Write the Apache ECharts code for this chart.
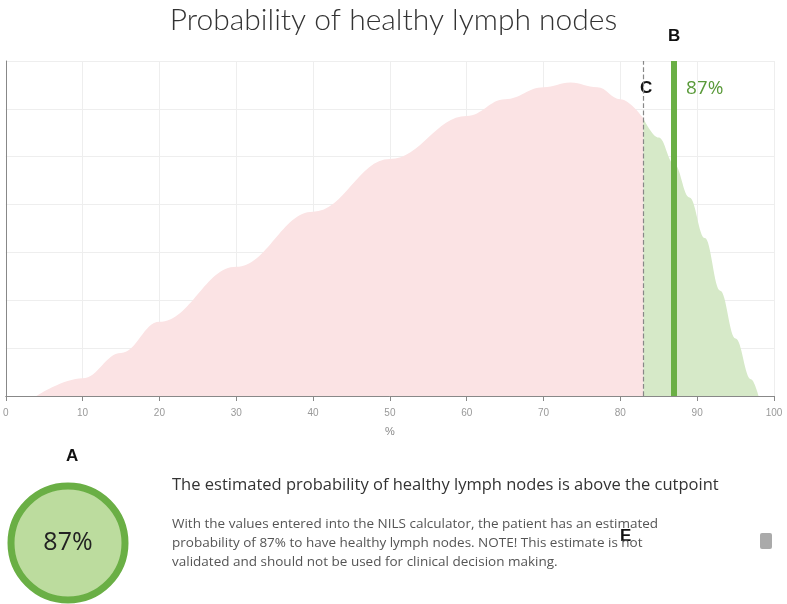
<!DOCTYPE html>
<html><head><meta charset="utf-8">
<script src="https://cdn.jsdelivr.net/npm/echarts@6/dist/echarts.min.js"></script>
<style>html,body{margin:0;padding:0;background:#fff}#chart{width:787px;height:604px}</style>
</head><body><div id="chart"></div>
<script>
// density curve, split at the cutpoint
var xTicks = [0, 10, 20, 30, 40, 50, 60, 70, 80, 90, 100];
var belowX = [4, 10, 15, 20, 30, 40, 50, 60, 65, 70, 73.5, 77, 80, 83];
var belowY = [0, 0.37, 0.9, 1.55, 2.7, 3.85, 4.95, 5.85, 6.2, 6.45, 6.55, 6.45, 6.2, 5.8];
var aboveX = [83, 85, 87, 89, 91, 93, 95, 97, 98];
var aboveY = [5.8, 5.4, 4.85, 4.15, 3.3, 2.2, 1.2, 0.35, 0];
var cutpoint = 83;
var estimate = 87;

function pairs(xs, ys) {
    var out = [];
    for (var i = 0; i < xs.length; i++) out.push([xs[i], ys[i]]);
    return out;
}

var chart = echarts.init(document.getElementById('chart'));
var font = '"Open Sans", Lato, sans-serif';

chart.setOption({
    animation: false,
    title: {
        text: 'Probability of healthy lymph nodes',
        left: 'center', top: 0,
        textStyle: { fontFamily: 'Lato', fontSize: 30, fontWeight: 300, color: '#333' }
    },
    grid: { left: 4, right: 13, top: 61, bottom: 208 },
    xAxis: {
        type: 'value', min: 0, max: 100, interval: 10,
        name: '%', nameLocation: 'middle', nameGap: 30,
        nameTextStyle: { color: '#888', fontSize: 11 },
        axisLine: { lineStyle: { color: '#888' } },
        axisTick: { show: true, lineStyle: { color: '#888' } },
        axisLabel: { color: '#999', fontSize: 10, margin: 12 },
        splitLine: { lineStyle: { color: '#eee' } }
    },
    yAxis: {
        type: 'value', min: 0, max: 7, interval: 1,
        axisLine: { show: true, lineStyle: { color: '#888' } },
        axisLabel: { show: false },
        axisTick: { show: false },
        splitLine: { lineStyle: { color: '#eee' } }
    },
    series: [
        {
            type: 'line', smooth: 0.4, smoothMonotone: 'x', symbol: 'none',
            data: pairs(belowX, belowY),
            lineStyle: { width: 0 },
            areaStyle: { color: '#fbe3e4', opacity: 1 }
        },
        {
            type: 'line', smooth: 0.4, smoothMonotone: 'x', symbol: 'none',
            data: pairs(aboveX, aboveY),
            lineStyle: { width: 0 },
            areaStyle: { color: '#d6e9c8', opacity: 1 },
            markLine: {
                symbol: 'none', silent: true,
                label: { show: false },
                data: [
                    { xAxis: cutpoint, lineStyle: { type: 'dashed', color: '#888', width: 1.2 } },
                    { xAxis: estimate, lineStyle: { type: 'solid', color: '#6aaf45', width: 6 } }
                ]
            }
        }
    ],
    graphic: [
        { type: 'text', left: 686, top: 79, style: { text: estimate + '%', font: '19px ' + font, fill: '#5a9a3a' } },
        { type: 'text', left: 668, top: 28, style: { text: 'B', font: 'bold 17px Arial', fill: '#111' } },
        { type: 'text', left: 640, top: 80, style: { text: 'C', font: 'bold 17px Arial', fill: '#111' } },
        { type: 'text', left: 479, top: 234, style: { text: 'D', font: 'bold 17px Arial', fill: '#111' } },
        { type: 'text', left: 66, top: 448, style: { text: 'A', font: 'bold 17px Arial', fill: '#111' } },
        { type: 'text', left: 620, top: 528, style: { text: 'E', font: 'bold 17px Arial', fill: '#111' } },
        { type: 'circle', shape: { cx: 68, cy: 543, r: 57 },
          style: { fill: '#bcdc9e', stroke: '#6aaf45', lineWidth: 7 } },
        { type: 'text', x: 68, y: 543, style: { text: estimate + '%', font: '25px ' + font, fill: '#222', textAlign: 'center', textVerticalAlign: 'middle' } },
        { type: 'text', left: 172, top: 477, style: { text: 'The estimated probability of healthy lymph nodes is above the cutpoint', font: '16.5px ' + font, fill: '#333' } },
        { type: 'text', left: 172, top: 515, style: {
            text: 'With the values entered into the NILS calculator, the patient has an estimated\nprobability of 87% to have healthy lymph nodes. NOTE! This estimate is not\nvalidated and should not be used for clinical decision making.',
            font: '13.5px ' + font, fill: '#555', lineHeight: 19 } },
        { type: 'rect', left: 760, top: 533, shape: { width: 12, height: 16, r: 2 }, style: { fill: '#aaa' } }
    ]
});
</script></body></html>
